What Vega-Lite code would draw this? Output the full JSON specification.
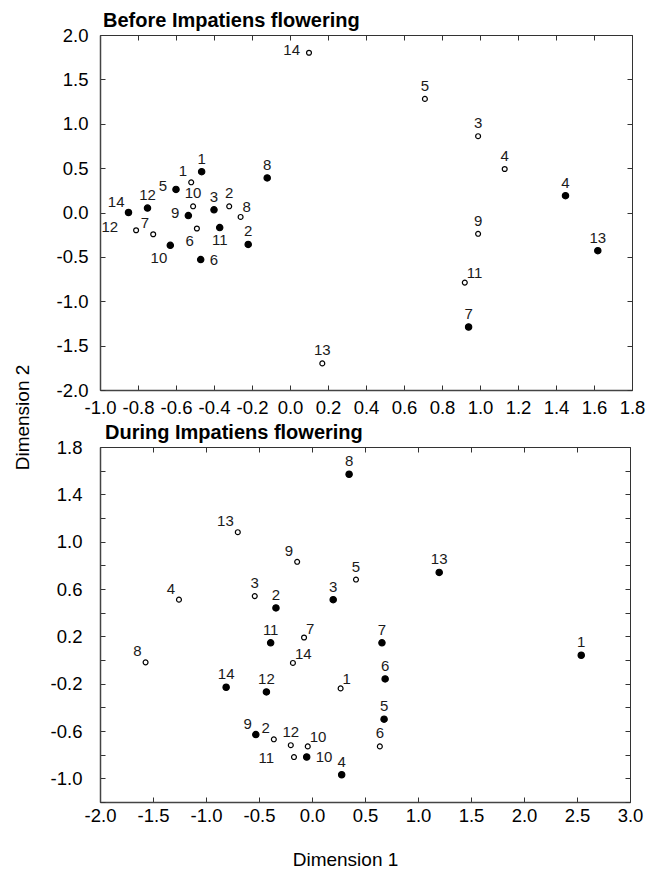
{
  "$schema": "https://vega.github.io/schema/vega-lite/v6.json",
  "padding": {"left": 12, "top": 10, "right": 10, "bottom": 4},
  "bounds": "flush",
  "spacing": 57,
  "config": {
    "font": "Liberation Sans",
    "view": {"stroke": "#333", "strokeWidth": 1},
    "locale": {"number": {"decimal": ".", "thousands": ",", "grouping": [3], "currency": ["$", ""], "minus": "-"}},
    "axis": {
      "grid": false,
      "labelFont": "Liberation Sans",
      "labelFontSize": 18.5,
      "labelColor": "#000",
      "labelFlush": false,
      "labelOverlap": false,
      "tickSize": -5,
      "tickColor": "#333",
      "tickWidth": 1,
      "domainColor": "#444",
      "domainWidth": 1.5,
      "titleFont": "Liberation Sans",
      "titleFontSize": 19,
      "titleFontWeight": "normal",
      "titleColor": "#000"
    },
    "title": {"font": "Liberation Sans", "fontSize": 20, "fontWeight": "bold", "color": "#000", "anchor": "start", "frame": "group"}
  },
  "datasets": {
    "pts": [
      {"p": "b", "t": "f", "n": "1", "x": -0.465, "y": 0.46, "pos": "t"},
      {"p": "b", "t": "f", "n": "8", "x": -0.12, "y": 0.39, "pos": "t"},
      {"p": "b", "t": "f", "n": "5", "x": -0.6, "y": 0.26, "pos": "l"},
      {"p": "b", "t": "f", "n": "3", "x": -0.4, "y": 0.03, "pos": "t"},
      {"p": "b", "t": "f", "n": "14", "x": -0.85, "y": 0.0, "pos": "tl"},
      {"p": "b", "t": "f", "n": "12", "x": -0.75, "y": 0.05, "pos": "t"},
      {"p": "b", "t": "f", "n": "9", "x": -0.535, "y": -0.035, "pos": "l"},
      {"p": "b", "t": "f", "n": "11", "x": -0.37, "y": -0.17, "pos": "b"},
      {"p": "b", "t": "f", "n": "2", "x": -0.22, "y": -0.36, "pos": "t"},
      {"p": "b", "t": "f", "n": "10", "x": -0.63, "y": -0.37, "pos": "bl"},
      {"p": "b", "t": "f", "n": "6", "x": -0.47, "y": -0.53, "pos": "r"},
      {"p": "b", "t": "f", "n": "4", "x": 1.45, "y": 0.19, "pos": "t"},
      {"p": "b", "t": "f", "n": "13", "x": 1.62, "y": -0.43, "pos": "t"},
      {"p": "b", "t": "f", "n": "7", "x": 0.94, "y": -1.29, "pos": "t"},
      {"p": "b", "t": "o", "n": "14", "x": 0.1, "y": 1.8, "pos": "l"},
      {"p": "b", "t": "o", "n": "5", "x": 0.71, "y": 1.28, "pos": "t"},
      {"p": "b", "t": "o", "n": "3", "x": 0.99, "y": 0.86, "pos": "t"},
      {"p": "b", "t": "o", "n": "4", "x": 1.13, "y": 0.49, "pos": "t"},
      {"p": "b", "t": "o", "n": "9", "x": 0.99, "y": -0.24, "pos": "t"},
      {"p": "b", "t": "o", "n": "11", "x": 0.92, "y": -0.79, "pos": "tr"},
      {"p": "b", "t": "o", "n": "13", "x": 0.17, "y": -1.7, "pos": "t"},
      {"p": "b", "t": "o", "n": "1", "x": -0.52, "y": 0.34, "pos": "tl"},
      {"p": "b", "t": "o", "n": "10", "x": -0.51, "y": 0.07, "pos": "t"},
      {"p": "b", "t": "o", "n": "2", "x": -0.32, "y": 0.07, "pos": "t"},
      {"p": "b", "t": "o", "n": "8", "x": -0.26, "y": -0.05, "pos": "tr"},
      {"p": "b", "t": "o", "n": "6", "x": -0.49, "y": -0.18, "pos": "bl"},
      {"p": "b", "t": "o", "n": "12", "x": -0.81, "y": -0.2, "pos": "L"},
      {"p": "b", "t": "o", "n": "7", "x": -0.72, "y": -0.245, "pos": "tl"},
      {"p": "d", "t": "f", "n": "8", "x": 0.35, "y": 1.57, "pos": "t"},
      {"p": "d", "t": "f", "n": "2", "x": -0.34, "y": 0.44, "pos": "t"},
      {"p": "d", "t": "f", "n": "3", "x": 0.2, "y": 0.51, "pos": "t"},
      {"p": "d", "t": "f", "n": "11", "x": -0.39, "y": 0.145, "pos": "t"},
      {"p": "d", "t": "f", "n": "14", "x": -0.81, "y": -0.23, "pos": "t"},
      {"p": "d", "t": "f", "n": "12", "x": -0.43, "y": -0.27, "pos": "t"},
      {"p": "d", "t": "f", "n": "6", "x": 0.69, "y": -0.16, "pos": "t"},
      {"p": "d", "t": "f", "n": "5", "x": 0.68, "y": -0.5, "pos": "t"},
      {"p": "d", "t": "f", "n": "9", "x": -0.53, "y": -0.63, "pos": "tl"},
      {"p": "d", "t": "f", "n": "10", "x": -0.05, "y": -0.82, "pos": "r"},
      {"p": "d", "t": "f", "n": "4", "x": 0.28, "y": -0.97, "pos": "t"},
      {"p": "d", "t": "f", "n": "13", "x": 1.2, "y": 0.74, "pos": "t"},
      {"p": "d", "t": "f", "n": "1", "x": 2.54, "y": 0.04, "pos": "t"},
      {"p": "d", "t": "f", "n": "7", "x": 0.66, "y": 0.145, "pos": "t"},
      {"p": "d", "t": "o", "n": "13", "x": -0.7, "y": 1.08, "pos": "tl"},
      {"p": "d", "t": "o", "n": "9", "x": -0.14, "y": 0.83, "pos": "tl"},
      {"p": "d", "t": "o", "n": "5", "x": 0.415, "y": 0.68, "pos": "t"},
      {"p": "d", "t": "o", "n": "4", "x": -1.255, "y": 0.51, "pos": "tl"},
      {"p": "d", "t": "o", "n": "3", "x": -0.54, "y": 0.54, "pos": "t"},
      {"p": "d", "t": "o", "n": "7", "x": -0.075, "y": 0.19, "pos": "tr"},
      {"p": "d", "t": "o", "n": "8", "x": -1.57, "y": -0.02, "pos": "tl"},
      {"p": "d", "t": "o", "n": "14", "x": -0.18, "y": -0.025, "pos": "tr"},
      {"p": "d", "t": "o", "n": "1", "x": 0.27, "y": -0.24, "pos": "tr"},
      {"p": "d", "t": "o", "n": "2", "x": -0.36, "y": -0.67, "pos": "tl"},
      {"p": "d", "t": "o", "n": "12", "x": -0.2, "y": -0.72, "pos": "t"},
      {"p": "d", "t": "o", "n": "10", "x": -0.04, "y": -0.73, "pos": "tr"},
      {"p": "d", "t": "o", "n": "6", "x": 0.64, "y": -0.73, "pos": "t"},
      {"p": "d", "t": "o", "n": "11", "x": -0.17, "y": -0.82, "pos": "L"}
    ]
  },
  "vconcat": [
    {
      "width": 532,
      "height": 355,
      "title": {"text": "Before Impatiens flowering", "dx": 3, "offset": -5},
      "data": {"name": "pts"},
      "transform": [{"filter": "datum.p == 'b'"}],
      "layer": [
        {
          "mark": {"type": "point", "shape": "circle", "filled": true, "stroke": "#000", "strokeWidth": 1.2, "opacity": 1},
          "encoding": {
            "x": {"field": "x", "type": "quantitative", "scale": {"domain": [-1, 1.8], "nice": false, "zero": false},
                  "axis": {"orient": "bottom", "title": null, "values": [-1, -0.8, -0.6, -0.4, -0.2, 0, 0.2, 0.4, 0.6, 0.8, 1, 1.2, 1.4, 1.6, 1.8], "format": ".1f", "labelPadding": 13}},
            "y": {"field": "y", "type": "quantitative", "scale": {"domain": [-2, 2], "nice": false, "zero": false},
                  "axis": {"orient": "left", "title": "Dimension 2", "values": [-2, -1.5, -1, -0.5, 0, 0.5, 1, 1.5, 2], "format": ".1f", "labelPadding": 17,
                           "titleX": -78, "titleY": 382, "titleAngle": 270, "titleBaseline": "middle", "titleAlign": "center"}},
            "fill": {"field": "t", "type": "nominal", "scale": {"domain": ["f", "o"], "range": ["#000", "#fff"]}, "legend": null},
            "size": {"field": "t", "type": "nominal", "scale": {"domain": ["f", "o"], "range": [40, 24]}, "legend": null}
          }
        },
        {
          "mark": {"type": "point", "opacity": 0},
          "encoding": {
            "x": {"field": "x", "type": "quantitative", "scale": {"domain": [-1, 1.8], "nice": false, "zero": false},
                  "axis": {"orient": "top", "title": null, "labels": false, "domain": false, "values": [-1, -0.8, -0.6, -0.4, -0.2, 0, 0.2, 0.4, 0.6, 0.8, 1, 1.2, 1.4, 1.6, 1.8]}},
            "y": {"field": "y", "type": "quantitative", "scale": {"domain": [-2, 2], "nice": false, "zero": false},
                  "axis": {"orient": "right", "title": null, "labels": false, "domain": false, "values": [-2, -1.5, -1, -0.5, 0, 0.5, 1, 1.5, 2]}}
          }
        },
        {
          "encoding": {
            "x": {"field": "x", "type": "quantitative", "scale": {"domain": [-1, 1.8], "nice": false, "zero": false}, "axis": null},
            "y": {"field": "y", "type": "quantitative", "scale": {"domain": [-2, 2], "nice": false, "zero": false}, "axis": null},
            "text": {"field": "n", "type": "nominal"}
          },
          "layer": [
            {"transform": [{"filter": "datum.pos == 't'"}], "mark": {"type": "text", "fontSize": 15, "color": "#1a1a1a", "align": "center", "baseline": "middle", "dy": -13}},
            {"transform": [{"filter": "datum.pos == 'tl'"}], "mark": {"type": "text", "fontSize": 15, "color": "#1a1a1a", "align": "right", "baseline": "middle", "dx": -4, "dy": -11}},
            {"transform": [{"filter": "datum.pos == 'tr'"}], "mark": {"type": "text", "fontSize": 15, "color": "#1a1a1a", "align": "left", "baseline": "middle", "dx": 2, "dy": -10}},
            {"transform": [{"filter": "datum.pos == 'l'"}], "mark": {"type": "text", "fontSize": 15, "color": "#1a1a1a", "align": "right", "baseline": "middle", "dx": -9, "dy": -3}},
            {"transform": [{"filter": "datum.pos == 'L'"}], "mark": {"type": "text", "fontSize": 15, "color": "#1a1a1a", "align": "right", "baseline": "middle", "dx": -18, "dy": -3}},
            {"transform": [{"filter": "datum.pos == 'r'"}], "mark": {"type": "text", "fontSize": 15, "color": "#1a1a1a", "align": "left", "baseline": "middle", "dx": 9, "dy": 0}},
            {"transform": [{"filter": "datum.pos == 'b'"}], "mark": {"type": "text", "fontSize": 15, "color": "#1a1a1a", "align": "center", "baseline": "middle", "dy": 12}},
            {"transform": [{"filter": "datum.pos == 'bl'"}], "mark": {"type": "text", "fontSize": 15, "color": "#1a1a1a", "align": "right", "baseline": "middle", "dx": -3, "dy": 13}}
          ]
        }
      ],
      "resolve": {"axis": {"x": "independent", "y": "independent"}}
    },
    {
      "width": 530,
      "height": 355,
      "title": {"text": "During Impatiens flowering", "dx": 5, "offset": -5},
      "data": {"name": "pts"},
      "transform": [{"filter": "datum.p == 'd'"}],
      "layer": [
        {
          "mark": {"type": "point", "shape": "circle", "filled": true, "stroke": "#000", "strokeWidth": 1.2, "opacity": 1},
          "encoding": {
            "x": {"field": "x", "type": "quantitative", "scale": {"domain": [-2, 3], "nice": false, "zero": false},
                  "axis": {"orient": "bottom", "title": "Dimension 1", "values": [-2, -1.5, -1, -0.5, 0, 0.5, 1, 1.5, 2, 2.5, 3], "format": ".1f", "labelPadding": 9,
                           "titleX": 245, "titleY": 57, "titleBaseline": "middle", "titleAlign": "center"}},
            "y": {"field": "y", "type": "quantitative", "scale": {"domain": [-1.2, 1.8], "nice": false, "zero": false},
                  "axis": {"orient": "left", "title": null, "values": [-1.2, -1, -0.8, -0.6, -0.4, -0.2, 0, 0.2, 0.4, 0.6, 0.8, 1, 1.2, 1.4, 1.6, 1.8], "format": ".1f", "labelPadding": 23,
                           "labelExpr": "abs(round(datum.value * 10)) % 4 == 2 ? datum.label : ''"}},
            "fill": {"field": "t", "type": "nominal", "scale": {"domain": ["f", "o"], "range": ["#000", "#fff"]}, "legend": null},
            "size": {"field": "t", "type": "nominal", "scale": {"domain": ["f", "o"], "range": [40, 24]}, "legend": null}
          }
        },
        {
          "mark": {"type": "point", "opacity": 0},
          "encoding": {
            "x": {"field": "x", "type": "quantitative", "scale": {"domain": [-2, 3], "nice": false, "zero": false},
                  "axis": {"orient": "top", "title": null, "labels": false, "domain": false, "values": [-2, -1.5, -1, -0.5, 0, 0.5, 1, 1.5, 2, 2.5, 3]}},
            "y": {"field": "y", "type": "quantitative", "scale": {"domain": [-1.2, 1.8], "nice": false, "zero": false},
                  "axis": {"orient": "right", "title": null, "labels": false, "domain": false, "values": [-1.2, -1, -0.8, -0.6, -0.4, -0.2, 0, 0.2, 0.4, 0.6, 0.8, 1, 1.2, 1.4, 1.6, 1.8]}}
          }
        },
        {
          "encoding": {
            "x": {"field": "x", "type": "quantitative", "scale": {"domain": [-2, 3], "nice": false, "zero": false}, "axis": null},
            "y": {"field": "y", "type": "quantitative", "scale": {"domain": [-1.2, 1.8], "nice": false, "zero": false}, "axis": null},
            "text": {"field": "n", "type": "nominal"}
          },
          "layer": [
            {"transform": [{"filter": "datum.pos == 't'"}], "mark": {"type": "text", "fontSize": 15, "color": "#1a1a1a", "align": "center", "baseline": "middle", "dy": -13}},
            {"transform": [{"filter": "datum.pos == 'tl'"}], "mark": {"type": "text", "fontSize": 15, "color": "#1a1a1a", "align": "right", "baseline": "middle", "dx": -4, "dy": -11}},
            {"transform": [{"filter": "datum.pos == 'tr'"}], "mark": {"type": "text", "fontSize": 15, "color": "#1a1a1a", "align": "left", "baseline": "middle", "dx": 2, "dy": -9}},
            {"transform": [{"filter": "datum.pos == 'l'"}], "mark": {"type": "text", "fontSize": 15, "color": "#1a1a1a", "align": "right", "baseline": "middle", "dx": -9, "dy": -3}},
            {"transform": [{"filter": "datum.pos == 'L'"}], "mark": {"type": "text", "fontSize": 15, "color": "#1a1a1a", "align": "right", "baseline": "middle", "dx": -20, "dy": 1}},
            {"transform": [{"filter": "datum.pos == 'r'"}], "mark": {"type": "text", "fontSize": 15, "color": "#1a1a1a", "align": "left", "baseline": "middle", "dx": 9, "dy": 0}},
            {"transform": [{"filter": "datum.pos == 'b'"}], "mark": {"type": "text", "fontSize": 15, "color": "#1a1a1a", "align": "center", "baseline": "middle", "dy": 12}},
            {"transform": [{"filter": "datum.pos == 'bl'"}], "mark": {"type": "text", "fontSize": 15, "color": "#1a1a1a", "align": "right", "baseline": "middle", "dx": -3, "dy": 13}}
          ]
        }
      ],
      "resolve": {"axis": {"x": "independent", "y": "independent"}}
    }
  ]
}
